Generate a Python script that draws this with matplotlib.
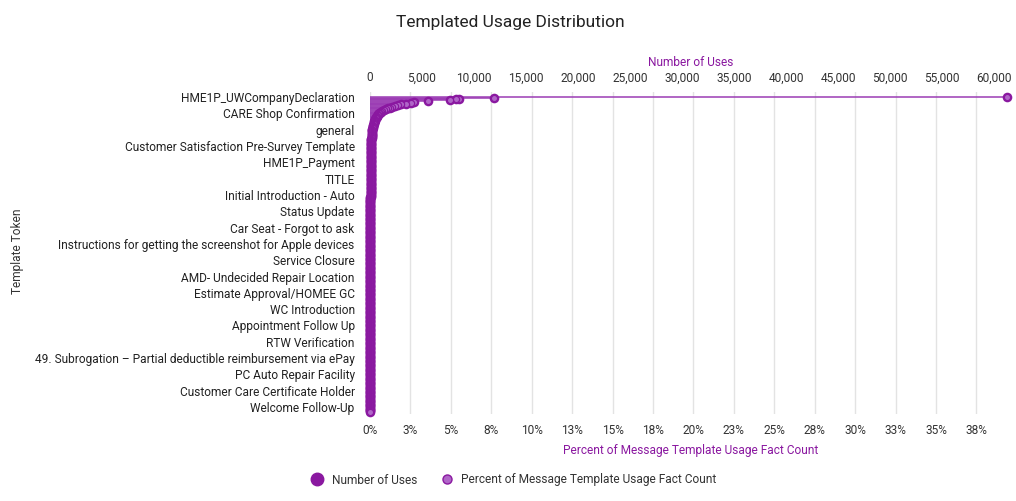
import matplotlib
matplotlib.use("Agg")
import matplotlib.pyplot as plt
from matplotlib.lines import Line2D
from matplotlib.ticker import FuncFormatter, MultipleLocator
import numpy as np

plt.rcParams['font.family'] = ['Roboto', 'DejaVu Sans']

# Number of uses per template token, sorted descending
uses = [
    61250, 11900, 8550, 8250, 7700, 5600, 4200, 3950, 3500, 3000,
    2700, 2400, 2100, 1900, 1700, 1500, 1350, 1200, 1050, 950,
    870, 800, 740, 690, 640, 600, 560, 520, 490, 460,
    430, 400, 375, 350, 330, 310, 290, 270, 255, 240,
    225, 212, 200, 190, 182, 175, 168, 161, 155, 150,
    145, 140, 135, 131, 127, 123, 119, 116, 113, 110,
    107, 104, 101, 99, 97, 95, 93, 91, 89, 88,
    86, 85, 83, 82, 81, 80, 78, 77, 76, 75,
    74, 73, 72, 71, 70, 69, 68, 67, 66, 65,
    65, 64, 63, 62, 62, 61, 60, 60, 59, 58,
    58, 57, 57, 56, 56, 55, 55, 54, 54, 53,
    53, 52, 52, 52, 51, 51, 51, 50, 50, 50,
    49, 49, 49, 48, 48, 48, 47, 47, 46, 46,
    45, 45, 44, 44, 43, 43, 42, 42, 41, 41,
    40, 40, 39, 39, 38, 38, 37, 37, 36, 36,
    35, 35, 34, 34, 33, 33, 33, 32, 32, 32,
    31, 31, 31, 30, 30, 30, 30, 29, 29, 29,
    28, 28, 28, 27, 27, 27, 26, 26, 26, 25,
    25, 25, 24, 24, 24, 23, 23, 23, 22, 22,
    22, 21, 21, 21, 20, 20, 20, 20, 19, 19,
    19, 19, 18, 18, 18, 18, 17, 17, 17, 17,
    16, 16, 16, 16, 16, 15, 15, 15, 15, 15,
    15, 14, 14, 14, 14, 14, 14, 13, 13, 13,
    13, 13, 13, 12, 12, 12, 12, 12, 12, 12,
    11, 11, 11, 11, 11, 11, 11, 10, 10, 10,
    10, 10, 10, 10, 10, 9, 9, 9, 9, 9,
    9, 9, 9, 9, 8, 8, 8, 8, 8, 8,
    8, 8, 7, 7, 7, 7, 7, 7, 7, 7,
    7, 7, 6, 6, 6, 6, 6, 6, 6, 6,
    6, 6, 6, 5, 5, 5, 5, 5, 5, 5,
    5, 5, 5, 5, 5, 5, 4, 4, 4, 4,
    4, 4, 4, 4, 4, 4, 4, 4, 4, 4,
    4, 3, 3, 3, 3, 3, 3, 3, 3, 3,
    3, 3, 3, 3, 3, 3, 3, 3, 3, 3,
    3, 2, 2, 2, 2, 2, 2, 2, 2, 2,
    2, 2, 2, 2, 2, 2, 2, 2, 2, 2,
    2, 2, 2, 2, 2, 2, 1, 1, 1, 1,
    1, 1, 1, 1, 1, 1, 1, 1, 1, 1,
    1, 1, 1, 1, 1, 1, 1,
]

# only every 20th token name is printed on the axis
label_step = 20
shown_labels = [
    "HME1P_UWCompanyDeclaration",
    "CARE Shop Confirmation",
    "general",
    "Customer Satisfaction Pre-Survey Template",
    "HME1P_Payment",
    "TITLE",
    "Initial Introduction - Auto",
    "Status Update",
    "Car Seat - Forgot to ask",
    "Instructions for getting the screenshot for Apple devices",
    "Service Closure",
    "AMD- Undecided Repair Location",
    "Estimate Approval/HOMEE GC",
    "WC Introduction",
    "Appointment Follow Up",
    "RTW Verification",
    "49. Subrogation \u2013 Partial deductible reimbursement via ePay",
    "PC Auto Repair Facility",
    "Customer Care Certificate Holder",
    "Welcome Follow-Up",
]

uses = np.array(uses, dtype=float)
total = uses.sum()
percent = uses / total * 100
pos = np.arange(len(uses))

PURPLE = '#8a18a0'
STEM = '#9b3cb4'
LIGHT = '#b066c8'
TEXT = '#333333'
FS = 8.6

W, H = 1016, 501
fig = plt.figure(figsize=(W / 100, H / 100), dpi=100)
left, right, top, bottom = 370, 1012, 92, 414
ax_p = fig.add_axes([left / W, 1 - bottom / H, (right - left) / W, (bottom - top) / H])
ax_u = ax_p.twiny()

x_max = 61730
ax_u.set_xlim(0, x_max)
ax_p.set_xlim(0, x_max / total * 100)
step_px = (412 - 97) / (len(uses) - 1)
ax_p.set_ylim(len(uses) - 1 + 2 / step_px, -5 / step_px)

# stems and dots
ax_u.hlines(pos, 0, uses, color=STEM, lw=1.1, zorder=2)
ax_u.scatter(uses, pos, s=48, color=PURPLE, lw=0, zorder=3, clip_on=False)
ax_u.scatter(percent, pos, s=20, facecolor=LIGHT, edgecolor=PURPLE, lw=0.9,
             zorder=4, clip_on=False, transform=ax_p.transData)

# axes styling
for a in (ax_p, ax_u):
    for s in a.spines.values():
        s.set_visible(False)
    a.tick_params(length=0, labelsize=FS, labelcolor=TEXT)

ax_u.xaxis.set_major_locator(MultipleLocator(5000))
ax_u.xaxis.set_major_formatter(FuncFormatter(lambda v, _: f"{int(v):,}"))
ax_u.tick_params(axis='x', pad=5.5)
ax_u.set_xlabel("Number of Uses", color=PURPLE, fontsize=FS, labelpad=4)

ax_p.xaxis.set_major_locator(MultipleLocator(2.5))
ax_p.xaxis.set_major_formatter(FuncFormatter(lambda v, _: f"{int(v + 0.5)}%"))
ax_p.tick_params(axis='x', pad=7.5)
ax_p.set_xlabel("Percent of Message Template Usage Fact Count", color=PURPLE,
                fontsize=FS, labelpad=5)
ax_p.grid(axis='x', color='#e3e3e3', lw=1)
ax_p.set_axisbelow(True)

ax_p.set_yticks(pos[::label_step])
ax_p.set_yticklabels(shown_labels, color='#222222')
ax_p.tick_params(axis='y', pad=11)

fig.text(18 / W, 1 - 251 / H, "Template Token", rotation=90, ha='center',
         va='center', fontsize=FS, color=TEXT)
fig.text(510 / W, 1 - 22 / H, "Templated Usage Distribution", ha='center',
         va='center', fontsize=12.5, color='#222222')

handles = [
    Line2D([], [], ls='none', marker='o', markersize=9, color=PURPLE, mec=PURPLE),
    Line2D([], [], ls='none', marker='o', markersize=6.5, mfc=LIGHT, mec=PURPLE, mew=1),
]
fig.legend(handles, ["Number of Uses", "Percent of Message Template Usage Fact Count"],
           loc='center', bbox_to_anchor=(511 / W, 1 - 480 / H), ncol=2,
           frameon=False, fontsize=FS, handletextpad=0.2, columnspacing=1.5,
           labelcolor=TEXT)

fig.savefig("out.png", dpi=100)
